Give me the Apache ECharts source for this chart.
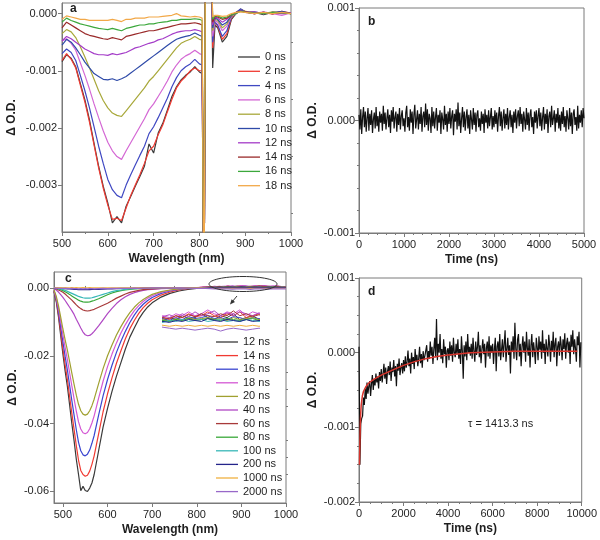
<!DOCTYPE html>
<html><head><meta charset="utf-8">
<script src="https://cdn.jsdelivr.net/npm/echarts@6/dist/echarts.min.js"></script>
<style>html,body{margin:0;padding:0;background:#fff}#chart{width:600px;height:540px}</style>
</head><body><div id="chart"></div>
<script>
// ---------------- Panel a : transient spectra, values in units of 1e-5 ΔO.D. ----------------
const aWavelength = [500,510,520,530,540,550,560,570,580,590,600,610,620,630,640,650,660,670,680,690,700,710,720,730,740,750,760,770,780,790,800,
  806,810,813,826,829,834, 840,850,860,870,880,890,900,920,940,960,980,1000];
const aNames = ['0 ns','2 ns','4 ns','6 ns','8 ns','10 ns','12 ns','14 ns','16 ns','18 ns'];
const a0ns = [-84,-72,-78,-93,-122,-151,-186,-227,-267,-302,-331,-366,-355,-366,-337,-320,-302,-285,-267,-228,-244,-209,-192,-169,-145,-128,-116,-108,-102,-93,-102, -105,-600,100,100,-95,-20, -25,-50,-40,-10,0,8,3,2,-2,2,3,0];
const a2ns = [-82,-70,-80,-95,-125,-155,-190,-230,-270,-305,-335,-360,-358,-362,-340,-318,-300,-282,-262,-240,-232,-212,-195,-172,-150,-130,-118,-110,-100,-95,-100, -100,-600,100,100,-60,-15, -22,-45,-35,-8,2,7,4,0,2,-1,4,1];
const a4ns = [-70,-62,-68,-82,-108,-135,-165,-198,-232,-262,-290,-308,-318,-322,-300,-282,-265,-248,-232,-210,-198,-182,-165,-148,-128,-112,-100,-93,-88,-80,-88, -90,-600,100,100,-50,-15, -20,-40,-30,-6,2,8,3,3,0,2,2,0];
const a6ns = [-48,-44,-52,-64,-86,-108,-132,-158,-182,-205,-225,-240,-250,-255,-240,-226,-212,-198,-184,-168,-158,-145,-132,-118,-102,-90,-80,-74,-70,-64,-70, -72,-600,100,100,-40,-12, -15,-30,-22,-5,0,6,2,0,3,0,-3,1];
const a8ns = [-35,-28,-32,-42,-58,-76,-95,-115,-135,-152,-165,-174,-178,-180,-170,-160,-150,-140,-130,-118,-110,-100,-90,-80,-70,-60,-52,-48,-45,-40,-45, -46,-600,100,100,-30,-10, -12,-25,-18,-4,0,5,4,2,0,3,1,0];
const a10ns = [-55,-45,-50,-60,-72,-85,-95,-105,-110,-115,-116,-114,-117,-114,-110,-104,-98,-92,-86,-80,-74,-68,-62,-56,-50,-45,-42,-40,-38,-34,-38, -40,-600,100,100,-25,-8, -10,-20,-15,-3,2,6,3,0,2,0,4,0];
const a12ns = [-48,-40,-44,-50,-56,-62,-66,-70,-72,-72,-73,-70,-72,-70,-68,-64,-60,-58,-55,-52,-50,-46,-44,-40,-36,-33,-31,-30,-30,-28,-30, -32,-600,100,100,-20,-6, -8,-15,-10,-2,0,5,2,3,0,2,0,1];
const a14ns = [-25,-15,-20,-25,-30,-35,-38,-40,-42,-44,-45,-42,-44,-46,-40,-38,-36,-34,-32,-30,-30,-28,-26,-24,-22,-20,-18,-18,-17,-16,-18, -20,-600,100,100,-15,-5, -6,-10,-8,-2,2,4,3,0,2,0,2,0];
const a16ns = [-15,-8,-12,-15,-18,-20,-22,-24,-26,-27,-28,-26,-28,-30,-26,-24,-22,-20,-20,-18,-18,-16,-15,-14,-12,-12,-10,-10,-10,-9,-10, -12,-600,100,100,-10,-4, -4,-8,-6,-2,0,4,2,1,0,2,1,0];
const a18ns = [-10,-4,-6,-8,-10,-10,-12,-12,-12,-12,-12,-10,-12,-14,-10,-10,-8,-8,-8,-6,-6,-6,-5,-4,-3,0,-4,-5,-6,-5,-6, -8,-600,100,100,-6,-3, -3,-5,-4,0,2,3,2,0,2,0,2,0];
const aUnit = 1e-5;

// ---------------- Panel b : kinetic trace, values in units of 1e-5 ΔO.D. ----------------
const bTimeStep = 20; // ns
const bValues = [
 5,-8,10,-12,3,12,-6,8,-10,2,11,-9,6,-4,9,-11,1,7,-7,12,-5,4,-10,8,-2,
 6,-9,13,-3,7,-8,2,10,-6,5,-11,9,-1,12,-7,3,8,-10,6,-4,11,-8,4,9,-5,
 2,-10,7,13,-6,3,-9,10,-2,8,-12,5,14,-7,1,9,-8,6,-3,12,-10,4,8,-6,15,
 -4,10,-9,6,2,-11,12,-5,8,-7,3,11,-9,5,-2,9,-12,7,1,-8,13,-4,6,-10,8,
 -3,11,-7,4,9,-13,6,-1,10,-8,16,-5,7,-11,2,12,-6,8,-9,3,10,-7,5,-12,9,
 1,-8,11,-4,7,-10,5,9,-6,2,-9,8,-3,6,-11,10,-2,5,-7,9,-5,3,11,-8,4,
 -6,9,-3,7,-10,4,12,-5,8,-9,2,10,-7,6,-4,11,-8,3,9,-6,5,-11,8,-2,10,
 -7,4,9,-5,12,-3,6,-10,8,1,-8,11,-4,7,-9,5,10,-6,3,-12,8,-2,9,-7,4,
 11,-5,7,-9,3,12,-8,6,-3,10,-11,4,8,-6,13,-4,2,9,-10,6,-2,11,-7,5,-9,
 8,-3,12,-6,4,-10,9,2,-8,11,-5,7,-12,6,10,-4,3,-9,13,-7,5,-2,9,-6,11,
 2];
const bUnit = 1e-5;

// ---------------- Panel c : transient spectra, values in units of 1e-4 ΔO.D. ----------------
const cWavelength = [480,485,490,495,500,505,510,515,520,525,530,535,540,545,550,555,560,565,570,
  580,590,600,610,620,630,640,650,660,670,680,690,700, 720,740,760,780,800,
  810,820,830,840,850,860,870,880,890,900,910,920,930,940,950,960,970,980,990,1000];
const cNames = ['12 ns','14 ns','16 ns','18 ns','20 ns','40 ns','60 ns','80 ns','100 ns','200 ns','1000 ns','2000 ns'];
const c12ns = [-10,-40,-85,-140,-195,-245,-290,-345,-400,-450,-505,-550,-598,-585,-597,-600,-590,-575,-550, -480,-410,-355,-305,-260,-220,-180,-145,-118,-92,-72,-56,-44, -27,-16,-9,-4,-1,
  1,2,1.5,3,2,4,2.5,3,5,3,2,4,3,5,2,3,4,2,3,2];
const c14ns = [-9,-36,-77,-128,-180,-227,-270,-320,-370,-417,-465,-508,-538,-550,-555,-552,-540,-520,-495, -430,-365,-312,-265,-222,-185,-150,-120,-96,-75,-58,-45,-35, -21,-12,-6,-2,0,
  1.5,2.5,3,2,4,3,5,3.5,4,6,4,3,5,4,6,3,4,5,3,3];
const c16ns = [-8,-32,-69,-114,-160,-202,-242,-287,-332,-375,-418,-455,-480,-492,-495,-490,-478,-458,-435, -375,-318,-270,-228,-190,-157,-128,-102,-80,-62,-48,-37,-28, -16,-9,-4,-1,1,
  1,2,2.5,1.5,3,2,3.5,2.5,3,4,2.5,3,2,3.5,3,2,3,2.5,2,2];
const c18ns = [-7,-28,-60,-99,-139,-176,-211,-250,-289,-327,-363,-395,-416,-427,-430,-426,-415,-398,-377, -325,-275,-232,-195,-162,-133,-108,-86,-67,-52,-40,-30,-23, -13,-7,-3,-1,1,
  2,3,4,3,5,4,6,4,5,7,5,4,6,5,7,4,6,5,4,3];
const c20ns = [-6,-24,-52,-86,-121,-153,-183,-217,-251,-284,-316,-343,-362,-372,-375,-372,-362,-347,-328, -282,-238,-200,-168,-139,-114,-92,-73,-57,-44,-34,-26,-19, -11,-6,-3,-1,0,
  1,1.5,2,1,2.5,1.5,3,2,2.5,3,2,2.5,1.5,3,2,2.5,3,2,1.5,2];
const c40ns = [-2,-6,-12,-20,-28,-37,-47,-57,-67,-78,-92,-105,-118,-130,-138,-141,-140,-135,-128, -112,-94,-76,-60,-46,-35,-26,-19,-14,-10,-7,-5,-4, -2,-1,0,0,0,
  2,2.5,3.5,4.5,3,5,3.5,6,4,5,6.5,4,5.5,4,6,5,4,5.5,4,3];
const c60ns = [-1,-3,-6,-9,-13,-18,-24,-30,-36,-43,-50,-56,-61,-65,-67,-68,-67,-65,-63, -57,-51,-45,-38,-30,-24,-18,-13,-10,-7,-5,-4,-3, -1,0,0,0,0.5,
  1,2,3,2.5,4,3,4.5,3.5,5,4,3.5,5,4,6.5,4,5,3.5,4.5,3,2.5];
const c80ns = [0,-1,-3,-5,-8,-11,-15,-19,-24,-28,-32,-36,-39,-41,-42,-42,-41,-39,-37, -32,-26,-20,-15,-11,-8,-6,-4,-3,-2,-1,-1,0, 0,0,0,0.5,0.5,
  0.5,1,1.5,1,2,1.5,2.5,1.5,2,2.5,2,1.5,2.5,2,1.5,2,2.5,1.5,2,1.5];
const c100ns = [0,-1,-2,-3,-5,-7,-10,-13,-16,-19,-22,-25,-27,-29,-30,-30,-30,-29,-27, -23,-19,-15,-11,-8,-6,-4,-3,-2,-1,-1,0,0, 0,0,0,0.5,0.5,
  0.5,1,0.5,1.5,1,2,1,1.5,2,1,1.5,2,1,1.5,1,2,1.5,1,1.5,1];
const c200ns = [0,0,-0.5,-1,-1.5,-2,-2.5,-3,-3.5,-4,-4.5,-5,-5,-5,-5,-5,-5,-4.5,-4.5, -4,-3.5,-3,-2.5,-2,-1.5,-1,-1,-0.5,-0.5,0,0,0, 0,0,0,0,0,
  0,0.5,1,0.5,1.5,1,2,1.5,1,2.5,1.5,1,2,1.5,1,2,1,1.5,1,1];
const c1000ns = [1,1,0.5,1,0.5,1,0.5,0.5,1,0.5,1,0.5,0.5,1,0.5,0.5,1,0.5,0.5, 0.5,0,0.5,0,0.5,0,0,0.5,0,0,0.5,0,0, 0,0,0,0,0,
  0,-0.5,-1,-1.5,-1,-1.5,-1,-1.5,-1,-1.5,-1,-1.5,-1,-1.5,-1,-1.5,-1,-1.5,-1,-1];
const c2000ns = [0,-0.5,-1,-1,-1.5,-1,-1.5,-2,-1.5,-2,-2,-2.5,-2,-2.5,-2,-2.5,-2,-2,-2.5, -2,-1.5,-2,-1.5,-1,-1.5,-1,-1,-0.5,-1,-0.5,-0.5,0, 0,-0.5,0,-0.5,-1,
  -1,-1.5,-2,-2.5,-3,-2.5,-3,-3.5,-3,-2.5,-3,-4,-3,-2.5,-3,-3.5,-3,-2.5,-3,-2.5];
const cUnit = 1e-4;

// ---------------- Panel d : kinetic trace + fit, values in units of 1e-5 ΔO.D. ----------------
const dTimeStep = 40; // ns
const dValues = [
 8,-150,-95,-88,-85,-60,-70,-48,-62,-40,-55,-45,-38,-58,-42,-30,-50,-35,-44,-28,-40,-32,-48,-26,-38,
 -22,-40,-28,-15,-35,-20,-42,-25,-18,-30,-12,-38,-20,-26,-10,-32,-18,-45,-15,-24,-8,-30,-20,-14,-28,
 -10,-25,-5,-20,-12,3,-18,-8,-28,0,-15,-6,-22,5,-12,-3,-18,-8,8,-14,-2,-20,2,-10,-4,
 -6,10,-12,2,-8,15,-4,8,-15,5,20,-6,45,-10,12,0,25,-8,5,-14,18,-2,8,-20,3,
 6,-10,15,-4,10,-12,20,0,-6,12,-2,18,-8,5,-15,22,2,-35,10,-5,15,-10,25,0,8,
 -4,12,-8,20,2,-12,15,-3,8,28,-6,10,-14,5,18,-2,12,-20,6,15,-5,22,-8,10,0,
 12,-15,5,20,-25,8,15,-5,25,-10,4,18,-6,12,30,-12,5,20,-3,10,-28,15,2,22,-8,
 40,5,-10,18,25,-5,12,-18,8,22,0,15,-12,28,6,-4,18,-20,10,25,-6,14,2,-15,20,
 8,-10,22,4,15,-8,30,0,12,-15,18,6,-5,24,10,-12,16,2,28,-6,12,20,-18,8,15,
 -4,22,10,-10,18,5,26,-8,12,20,0,15,-15,24,8,30,-2,18,6,-12,22,10,28,-20,14];
const dFitTime = [20,40,60,80,100,150,200,300,400,500,700,1000,1300,1600,2000,2500,3000,3500,4000,5000,6000,7000,8000,9000,9800];
const dFitValues = [-150,-120,-95,-80,-70,-58,-52,-46,-42,-39,-35,-30,-26,-22,-17,-12,-8,-5,-3,0,1,2,2,2,2];
const dUnit = 1e-5;
const dTauLabel = 'τ = 1413.3 ns';

// ---------------- styling ----------------
const FONT = "'Liberation Sans', Arial, sans-serif";
const AXC = '#7a7a7a', TXT = '#1e1e1e';
const aColors = ['#3a3a3a','#f03a32','#3f48c2','#d468d4','#a8a83a','#2e4aa8','#a43cc8','#9a2a2a','#3ca83c','#f2a848'];
const cColors = ['#3a3a3a','#f03a32','#3a46d0','#d458d4','#a0a030','#b048c4','#a83a3a','#38a838','#38b8b8','#24248a','#f0b040','#9868c8'];

const aList = [a0ns,a2ns,a4ns,a6ns,a8ns,a10ns,a12ns,a14ns,a16ns,a18ns];
const cList = [c12ns,c14ns,c16ns,c18ns,c20ns,c40ns,c60ns,c80ns,c100ns,c200ns,c1000ns,c2000ns];

function line(name, data, color, xi, yi, w, z) {
  return {type:'line', name, data, xAxisIndex:xi, yAxisIndex:yi, showSymbol:false, symbol:'none',
    lineStyle:{color, width:w}, itemStyle:{color}, animation:false, silent:true, z:z||2, clip:true};
}
const series = [];
aList.forEach((vals,i)=>series.push(line(aNames[i], aWavelength.map((w,k)=>[w, vals[k]*aUnit]), aColors[i], 0, 0, 1.2)));
series.push(line('b', bValues.map((v,k)=>[k*bTimeStep, v*bUnit]), '#111', 1, 1, 1.2));
cList.forEach((vals,i)=>series.push(line('c:'+cNames[i], cWavelength.map((w,k)=>[w, vals[k]*cUnit]), cColors[i], 2, 2, 1.2)));
series.push(line('d', dValues.map((v,k)=>[k*dTimeStep, v*dUnit]), '#111', 3, 3, 1.2));
series.push(line('fit', dFitTime.map((t,k)=>[t, dFitValues[k]*dUnit]), '#d8342c', 3, 3, 1.5, 5));
cList.forEach((vals,i)=>series.push(line('i:'+cNames[i], cWavelength.map((w,k)=>[w, vals[k]*cUnit]), cColors[i], 4, 4, 1)));

const lab = {fontSize:11, color:TXT, fontFamily:FONT};
const nameSt = {fontSize:12, fontWeight:'bold', color:TXT, fontFamily:FONT};
function axis(o) {
  const base = {
    type:'value', gridIndex:o.g, min:o.min, max:o.max, scale:true,
    splitLine:{show:false},
    axisLine:{show:true, onZero:false, lineStyle:{color:AXC, width:1}},
    axisTick:{show:true, inside:false, length:4, lineStyle:{color:AXC}},
    axisLabel:Object.assign({show:true, margin:o.margin, formatter:o.fmt}, lab),
    name:o.name, nameLocation:'middle', nameGap:o.nameGap, nameTextStyle:nameSt
  };
  if (o.interval) base.interval = o.interval;
  if (o.custom) { base.axisLabel.customValues = o.custom; base.axisTick.customValues = o.custom; }
  if (o.minor) base.minorTick = {show:true, splitNumber:o.minor, length:2, lineStyle:{color:AXC}};
  return base;
}
function minorAxis(g, min, max, vals) {
  return {type:'value', gridIndex:g, min, max, axisLine:{show:false}, splitLine:{show:false},
    axisLabel:{show:false, customValues:vals}, axisTick:{show:true, length:2, customValues:vals, lineStyle:{color:AXC}}};
}
function hidden(g, min, max) {
  return {type:'value', gridIndex:g, min, max, show:false, splitLine:{show:false}};
}
const f3 = v => v.toFixed(3), f2 = v => v.toFixed(2), f0 = v => String(Math.round(v));
const legendText = {fontSize:11, color:TXT, fontFamily:FONT, lineHeight:12};

const option = {
  animation:false,
  backgroundColor:'#fff',
  textStyle:{fontFamily:FONT},
  grid:[
    {left:62, top:3, width:229, height:229, show:true, borderColor:AXC, borderWidth:1},
    {left:359, top:8, width:225, height:225, show:true, borderColor:AXC, borderWidth:1},
    {left:54, top:272, width:232, height:231, show:true, borderColor:AXC, borderWidth:1},
    {left:359, top:278, width:223, height:224, show:true, borderColor:AXC, borderWidth:1},
    {left:163, top:308, width:96, height:25, show:false}
  ],
  xAxis:[
    axis({g:0, min:500, max:1000, interval:100, minor:2, fmt:f0, margin:6, name:'Wavelength (nm)', nameGap:21}),
    axis({g:1, min:0, max:5000, interval:1000, minor:5, fmt:f0, margin:6, name:'Time (ns)', nameGap:21}),
    axis({g:2, min:480, max:1000, custom:[500,600,700,800,900,1000], fmt:f0, margin:6, name:'Wavelength (nm)', nameGap:21}),
    axis({g:3, min:0, max:10000, interval:2000, minor:4, fmt:f0, margin:6, name:'Time (ns)', nameGap:21}),
    hidden(4, 830, 980),
    minorAxis(2, 480, 1000, [550,650,750,850,950])
  ],
  yAxis:[
    axis({g:0, min:-0.00382, max:0.000185, custom:[-0.003,-0.002,-0.001,0], fmt:f3, margin:5, name:'Δ O.D.', nameGap:44}),
    axis({g:1, min:-0.001, max:0.001, interval:0.001, minor:5, fmt:f3, margin:4, name:'Δ O.D.', nameGap:40}),
    axis({g:2, min:-0.0634, max:0.0047, custom:[-0.06,-0.04,-0.02,0], fmt:f2, margin:5, name:'Δ O.D.', nameGap:35}),
    axis({g:3, min:-0.002, max:0.001, interval:0.001, minor:4, fmt:f3, margin:4, name:'Δ O.D.', nameGap:40}),
    hidden(4, -0.0005, 0.0008),
    minorAxis(0, -0.00382, 0.000185, [-0.0035,-0.0025,-0.0015,-0.0005]),
    minorAxis(2, -0.0634, 0.0047, [-0.055,-0.05,-0.045,-0.035,-0.03,-0.025,-0.015,-0.01,-0.005])
  ],
  legend:[
    {data:aNames, orient:'vertical', left:233, top:46, icon:'rect', itemWidth:22, itemHeight:1.3, itemGap:2.3,
     selectedMode:false, textStyle:legendText},
    {data:cNames.map(n=>'c:'+n), orient:'vertical', left:211, top:331, icon:'rect', itemWidth:22, itemHeight:1.3, itemGap:1.6,
     selectedMode:false, formatter:n=>n.slice(2), textStyle:legendText}
  ],
  graphic:[
    {type:'text', left:70, top:3, style:{text:'a', font:'bold 12px '+FONT, fill:TXT}},
    {type:'text', left:368, top:16, style:{text:'b', font:'bold 12px '+FONT, fill:TXT}},
    {type:'text', left:65, top:273, style:{text:'c', font:'bold 12px '+FONT, fill:TXT}},
    {type:'text', left:368, top:286, style:{text:'d', font:'bold 12px '+FONT, fill:TXT}},
    {type:'text', left:468, top:418, style:{text:dTauLabel, font:'11px '+FONT, fill:TXT}},
    {type:'ellipse', shape:{cx:243, cy:284, rx:34, ry:7.5}, style:{fill:'none', stroke:'#333', lineWidth:1}, z:10},
    {type:'line', shape:{x1:237, y1:296, x2:232, y2:302}, style:{stroke:'#333', lineWidth:1}, z:10},
    {type:'polygon', shape:{points:[[230,304.5],[235,302.1],[231.6,299.3]]}, style:{fill:'#333'}, z:10}
  ],
  series
};
const chart = echarts.init(document.getElementById('chart'), null, {renderer:'canvas'});
chart.setOption(option);
</script></body></html>
